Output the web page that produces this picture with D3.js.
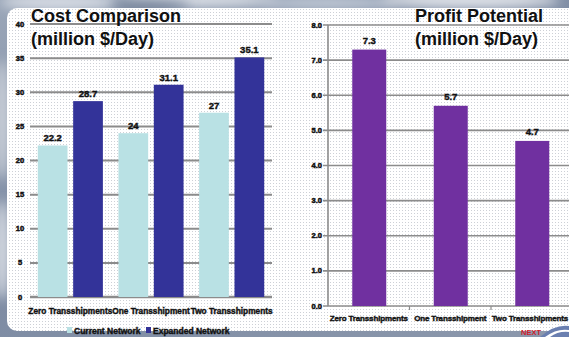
<!DOCTYPE html>
<html><head><meta charset="utf-8">
<script src="https://cdn.jsdelivr.net/npm/d3@7"></script>
<style>body{margin:0;overflow:hidden;}svg{display:block;font-family:"Liberation Sans",Arial,sans-serif;}</style>
</head><body>
<script>
const categories = ["Zero Transshipments", "One Transshipment", "Two Transshipments"];
const seriesNames = ["Current Network", "Expanded Network"];
const currentCost = [22.2, 24, 27];
const expandedCost = [28.7, 31.1, 35.1];
const profit = [7.3, 5.7, 4.7];
const costTicks = [0, 5, 10, 15, 20, 25, 30, 35, 40];
const profitTicks = [0, 1, 2, 3, 4, 5, 6, 7, 8];
const colors = {current: "#b9e1e4", expanded: "#333399", profit: "#7030a0"};

const W = 569, H = 337;
const svg = d3.select("body").append("svg").attr("width", W).attr("height", H);
const defs = svg.append("defs");

// sky background
const sky = defs.append("linearGradient").attr("id","sky").attr("x1",0).attr("y1",0).attr("x2",1).attr("y2",1);
sky.append("stop").attr("offset","0%").attr("stop-color","#9aa6b8");
sky.append("stop").attr("offset","40%").attr("stop-color","#7d8ba3");
sky.append("stop").attr("offset","100%").attr("stop-color","#8c98ac");
svg.append("rect").attr("width",W).attr("height",H).attr("fill","url(#sky)");
const blur = defs.append("filter").attr("id","blur").attr("x","-50%").attr("y","-50%").attr("width","200%").attr("height","200%");
blur.append("feGaussianBlur").attr("stdDeviation",6);
[[60,2,60,8,"#d8dde5"],[200,0,80,6,"#e8ebf0"],[330,3,70,6,"#c8d0dc"],[470,0,90,8,"#e4e7ec"],[2,120,8,60,"#c9cfd8"],[2,250,8,50,"#d5dae2"],[150,6,40,4,"#5a6a85"]].forEach(c=>{
  svg.append("ellipse").attr("cx",c[0]).attr("cy",c[1]).attr("rx",c[2]).attr("ry",c[3]).attr("fill",c[4]).attr("filter","url(#blur)");
});

// dotted sheet
const pat = defs.append("pattern").attr("id","dots").attr("width",3).attr("height",3).attr("patternUnits","userSpaceOnUse");
pat.append("rect").attr("width",3).attr("height",3).attr("fill","#ffffff");
pat.append("rect").attr("width",1).attr("height",1).attr("fill","#cdd0d6");
svg.append("rect").attr("x",7).attr("y",8).attr("width",W+20).attr("height",323).attr("rx",10).attr("fill","url(#dots)");

function heavy(sel, sw){ return sel.attr("stroke","#111").attr("stroke-width",sw).attr("paint-order","fill"); }

// ---------- Left chart: cost comparison ----------
const yL = d3.scaleLinear().domain([0,40]).range([297,24]);
const xL = d3.scaleBand().domain(categories).range([30,272]).paddingInner(0).paddingOuter(0);
const xLs = d3.scaleBand().domain(seriesNames).range([0,xL.bandwidth()]).paddingInner(0.16).paddingOuter(0.22);

const gL = svg.append("g");
gL.selectAll("line.grid").data(costTicks).join("line")
  .attr("x1",30).attr("x2",272).attr("y1",d=>yL(d)).attr("y2",d=>yL(d))
  .attr("stroke","#8c8c8c").attr("stroke-width",d=>d===0?2.5:2);
heavy(gL.selectAll("text.tick").data(costTicks).join("text")
  .attr("x",20).attr("y",d=>yL(d)+2.5).attr("text-anchor","middle")
  .attr("font-size",7.5).attr("font-weight","bold").attr("fill","#111").text(d=>d), 0.5);

const series = [currentCost, expandedCost];
const sColors = [colors.current, colors.expanded];
series.forEach((vals, si) => {
  gL.selectAll("rect.s"+si).data(vals).join("rect")
    .attr("x",(d,i)=>xL(categories[i])+xLs(seriesNames[si]))
    .attr("width",xLs.bandwidth())
    .attr("y",d=>yL(d)).attr("height",d=>yL(0)-yL(d))
    .attr("fill",sColors[si]);
  heavy(gL.selectAll("text.v"+si).data(vals).join("text")
    .attr("x",(d,i)=>xL(categories[i])+xLs(seriesNames[si])+xLs.bandwidth()/2)
    .attr("y",d=>yL(d)-4).attr("text-anchor","middle")
    .attr("font-size",9.5).attr("font-weight","bold").attr("fill","#111")
    .text(d=>d), 0.4);
});
heavy(gL.selectAll("text.cat").data(categories).join("text")
  .attr("x",d=>xL(d)+xL.bandwidth()/2).attr("y",314).attr("text-anchor","middle")
  .attr("font-size",8.3).attr("font-weight","bold").attr("fill","#111").text(d=>d), 0.4);

// legend
const legX = [67, 146];
seriesNames.forEach((n,i)=>{
  gL.append("rect").attr("x",legX[i]).attr("y",327).attr("width",5).attr("height",6).attr("fill",sColors[i]);
  heavy(gL.append("text").attr("x",legX[i]+7).attr("y",333.5).attr("font-size",8.5).attr("font-weight","bold").attr("fill","#111").text(n), 0.4);
});

gL.append("text").attr("x",31).attr("y",22).attr("font-size",18).attr("font-weight","bold").attr("fill","#111").text("Cost Comparison");
gL.append("text").attr("x",31).attr("y",45).attr("font-size",18).attr("font-weight","bold").attr("fill","#111").text("(million $/Day)");

// ---------- Right chart: profit potential ----------
const yR = d3.scaleLinear().domain([0,8]).range([306,25]);
const xR = d3.scaleBand().domain(categories).range([328,572.5]).padding(0).paddingInner(0);
const gR = svg.append("g");
gR.selectAll("line.grid").data(profitTicks).join("line")
  .attr("x1",323).attr("x2",W).attr("y1",d=>yR(d)).attr("y2",d=>yR(d))
  .attr("stroke","#8c8c8c").attr("stroke-width",1.6);
gR.append("line").attr("x1",328).attr("x2",328).attr("y1",yR(8)).attr("y2",yR(0)).attr("stroke","#8c8c8c").attr("stroke-width",1.6);
gR.selectAll("line.xt").data(categories.slice(1)).join("line")
  .attr("x1",d=>xR(d)).attr("x2",d=>xR(d)).attr("y1",yR(0)).attr("y2",yR(0)+4)
  .attr("stroke","#8c8c8c").attr("stroke-width",1.2);
heavy(gR.selectAll("text.tick").data(profitTicks).join("text")
  .attr("x",322).attr("y",d=>yR(d)+2.5).attr("text-anchor","end")
  .attr("font-size",7.5).attr("font-weight","bold").attr("fill","#111").text(d=>d.toFixed(1)), 0.5);
const bw = 34;
gR.selectAll("rect.p").data(profit).join("rect")
  .attr("x",(d,i)=>xR(categories[i])+xR.bandwidth()/2-bw/2+0.5).attr("width",bw)
  .attr("y",d=>yR(d)).attr("height",d=>yR(0)-yR(d)).attr("fill",colors.profit);
heavy(gR.selectAll("text.v").data(profit).join("text")
  .attr("x",(d,i)=>xR(categories[i])+xR.bandwidth()/2+0.5).attr("y",d=>yR(d)-6).attr("text-anchor","middle")
  .attr("font-size",9.5).attr("font-weight","bold").attr("fill","#111").text(d=>d), 0.4);
const catR = heavy(gR.selectAll("text.cat").data(categories).join("text")
  .attr("x",d=>xR(d)+xR.bandwidth()/2).attr("y",321).attr("text-anchor","middle")
  .attr("font-size",8).attr("font-weight","bold").attr("fill","#111").attr("letter-spacing",-0.15).text(d=>d), 0.4);
// keep the last label inside the frame
catR.each(function(d){
  const w = this.getComputedTextLength();
  const cx = +this.getAttribute("x");
  if (cx + w/2 > W - 1) this.setAttribute("x", W - 1 - w/2);
});
gR.append("text").attr("x",415).attr("y",22).attr("font-size",18).attr("font-weight","bold").attr("fill","#111").text("Profit Potential");
gR.append("text").attr("x",415).attr("y",45).attr("font-size",18).attr("font-weight","bold").attr("fill","#111").text("(million $/Day)");

// logo fragment
svg.append("path").attr("d","M540,337 Q555,324 569,326 L569,337 Z").attr("fill","#6a7fb0");
svg.append("path").attr("d","M545,337 Q557,328 569,330 L569,332 Q558,331 550,337 Z").attr("fill","#ffffff");
svg.append("text").attr("x",521).attr("y",335).attr("font-size",7.5).attr("font-weight","bold").attr("fill","#d0202a").text("NEXT");
</script>
</body></html>
